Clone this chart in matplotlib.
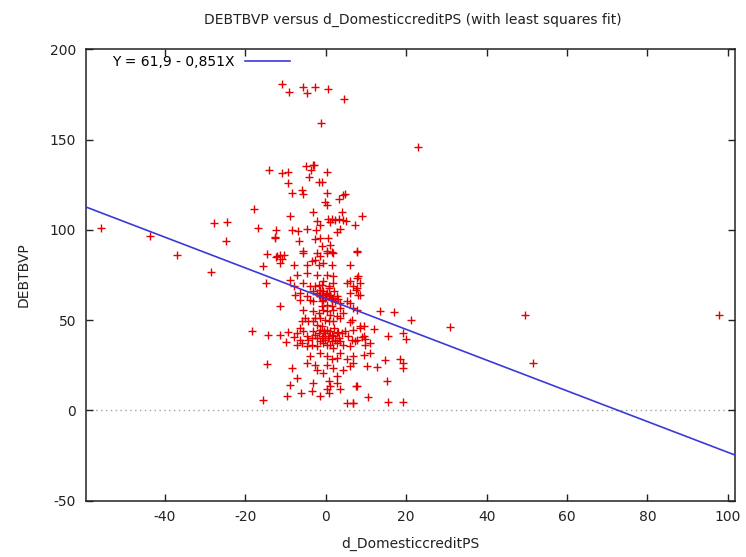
import matplotlib
matplotlib.use("Agg")
import numpy as np
import matplotlib.pyplot as plt

plt.rcParams["axes.unicode_minus"] = False

# least squares fit shown in the key
intercept = 61.9
slope = -0.851
fit_label = "Y = 61,9 - 0,851X"

# scatter points (d_DomesticcreditPS, DEBTBVP)
far_left = [(-56.0, 100.8), (-43.7, 96.4), (-36.9, 85.8), (-28.5, 76.8), (-27.8, 104.0),
            (-24.5, 104.5), (-24.8, 94.0), (-17.8, 111.5), (-16.8, 101.0), (-15.7, 80.1),
            (-18.4, 43.8), (-15.7, 5.6), (-14.9, 70.6), (-14.7, 86.8), (-14.5, 25.9),
            (-14.3, 42.0), (-14.1, 133.2)]

right_side = [(97.9, 52.7), (49.5, 52.7), (51.6, 26.3), (30.9, 46.0), (22.9, 146.1),
              (21.2, 50.1), (20.0, 39.4), (19.3, 43.0), (19.2, 26.3), (19.2, 23.5),
              (18.5, 28.7), (19.2, 4.7), (17.1, 54.7), (15.6, 4.6), (15.4, 41.4),
              (15.2, 16.5), (14.8, 28.0), (13.5, 54.8), (12.7, 24.2), (12.1, 45.3),
              (11.0, 31.9), (11.0, 37.4), (10.6, 7.7), (10.2, 24.4)]

top_points = [(-10.9, 180.8), (-9.1, 176.2), (-5.6, 179.0), (-4.7, 175.7), (-2.7, 179.3),
              (0.6, 177.9), (4.6, 172.5), (-1.2, 159.4)]

upper_band = [(-10.9, 131.4), (-9.3, 132.0), (-4.9, 135.5), (-2.9, 136.0), (-3.7, 133.2),
              (0.4, 132.0), (-3.1, 135.8), (-9.5, 126.2), (-4.1, 129.2), (-1.7, 126.4),
              (-1.0, 126.6), (-8.3, 120.4), (-5.9, 122.2), (-5.6, 120.0), (0.4, 120.4),
              (4.8, 120.0), (3.2, 117.0), (4.2, 119.4), (-0.3, 115.2), (0.2, 113.9),
              (-8.9, 107.8), (-3.2, 110.0), (4.0, 109.8), (9.0, 107.8), (0.6, 106.0),
              (1.5, 106.2), (2.3, 105.6), (3.2, 105.8), (4.4, 105.2), (5.0, 104.8),
              (1.0, 104.5), (-2.2, 105.0), (-1.4, 102.8), (7.4, 102.7), (-12.4, 100.0),
              (-12.7, 95.5), (-8.3, 100.0), (-6.8, 99.5), (-4.7, 100.2), (-2.4, 100.0),
              (-6.6, 93.6), (-2.7, 95.0), (-1.4, 95.6), (0.6, 95.6), (2.7, 99.0),
              (3.6, 100.4), (-1.0, 90.8), (1.1, 91.8), (-12.4, 85.0), (-10.9, 83.9),
              (7.7, 88.0), (-5.6, 87.2), (-1.4, 85.7), (0.2, 87.2), (1.9, 87.2),
              (-11.4, 86.2), (-12.6, 96.0)]

core_high = [(-5.6, 88.1), (-2.2, 87.2), (0.2, 88.1), (1.5, 87.5), (-4.7, 80.7),
             (-3.5, 82.5), (-2.7, 83.5), (-1.8, 80.7), (-0.6, 81.6), (1.5, 80.7),
             (-8.0, 80.7), (-11.4, 81.6), (-10.5, 86.2), (-12.2, 85.7), (6.1, 80.7),
             (7.7, 88.1), (-7.2, 75.2), (-4.7, 76.1), (-2.2, 75.2), (0.2, 75.2),
             (1.9, 74.3), (7.7, 73.3), (8.1, 74.6), (8.5, 70.6), (-0.6, 71.5),
             (-1.8, 69.6), (0.7, 68.7), (-8.9, 72.4), (-5.6, 70.6), (-3.9, 68.7),
             (5.2, 70.6), (6.1, 71.5), (1.9, 70.6)]

core_mid = [(-3.1, 66.0), (-2.2, 65.0), (-1.4, 66.9), (-0.6, 66.0), (0.2, 65.0),
            (1.1, 64.1), (-1.4, 63.2), (-0.2, 62.3), (1.5, 61.3), (2.3, 60.4),
            (3.6, 59.5), (5.2, 60.4), (2.7, 63.2), (0.7, 67.8), (-8.0, 68.7),
            (-7.6, 64.1), (-6.4, 65.0), (-4.7, 63.2), (-3.9, 61.3), (6.1, 65.0),
            (8.1, 64.1), (6.1, 59.5), (6.9, 68.7), (-6.4, 61.3), (-3.1, 60.4),
            (-1.0, 60.4), (-1.8, 64.1), (0.7, 63.2), (-0.6, 61.3), (1.9, 62.3),
            (-2.7, 68.7), (-1.0, 69.6), (8.5, 64.1), (7.5, 66.9), (7.7, 67.8),
            (0.0, 64.6), (2.1, 66.2), (-0.9, 63.8), (1.3, 62.0), (3.0, 61.6)]

core_low = [(-11.5, 58.0), (-5.7, 55.8), (-5.1, 51.2), (-4.3, 49.4), (-3.1, 54.9),
            (-1.8, 54.0), (-0.6, 55.8), (0.2, 54.9), (1.1, 53.0), (1.9, 55.8),
            (2.7, 52.1), (-1.4, 51.2), (-0.2, 50.3), (0.7, 49.4), (1.9, 49.4),
            (3.6, 51.2), (6.1, 48.8), (6.5, 50.3), (7.7, 55.8), (6.9, 44.8),
            (4.4, 54.0), (3.6, 56.7), (-2.7, 51.2), (-3.1, 49.4), (-6.0, 49.4),
            (-2.2, 47.5), (-1.0, 46.6), (6.9, 56.7), (0.2, 58.6), (1.5, 57.7),
            (-1.0, 57.7),
            (-11.5, 42.0), (-9.3, 43.3), (-9.9, 37.7), (-7.9, 40.7), (-7.2, 42.9),
            (-6.4, 45.7), (-5.6, 43.8), (-4.7, 41.1), (-4.3, 39.2), (-3.5, 40.1),
            (-2.7, 42.0), (-1.8, 42.9), (-1.0, 40.1), (-0.2, 39.2), (0.7, 41.1),
            (1.5, 42.0), (2.3, 39.2), (3.2, 40.1), (4.0, 42.9), (4.8, 43.8),
            (5.6, 41.1), (6.5, 39.2), (7.3, 38.3), (8.5, 46.6), (9.0, 40.7),
            (9.8, 39.6), (-3.5, 36.5), (-2.2, 35.5), (-0.6, 37.4), (1.1, 36.5),
            (1.9, 34.6), (2.7, 37.4), (4.4, 36.5), (6.1, 35.5), (0.2, 44.8),
            (-1.4, 44.8), (-3.1, 43.8), (-6.4, 39.2), (-4.7, 35.5), (-6.0, 37.4),
            (-7.2, 36.5), (-0.2, 42.9), (1.1, 43.8), (1.9, 41.1), (0.2, 36.5),
            (-1.4, 38.3), (2.7, 42.9), (3.6, 38.3), (1.5, 38.3), (-0.6, 41.1),
            (-2.2, 40.1), (9.5, 46.6), (8.5, 45.7), (9.4, 41.0), (7.7, 39.2),
            (9.8, 36.5), (0.5, 39.9), (-0.4, 44.0), (2.0, 45.5), (3.1, 43.2)]

core_bottom = [(-8.5, 23.5), (-7.2, 18.0), (-4.7, 26.3), (-2.7, 25.4), (-3.9, 30.0),
               (-1.4, 31.8), (0.2, 30.0), (1.5, 28.2), (2.7, 29.1), (3.6, 31.8),
               (5.2, 28.2), (6.9, 30.0), (0.2, 25.4), (1.9, 23.5), (2.7, 19.0),
               (-0.6, 20.8), (-2.2, 22.6), (0.7, 16.2), (4.4, 22.6), (6.1, 24.5),
               (9.4, 30.9), (7.5, 13.4), (-3.1, 15.3), (-3.5, 10.6), (6.9, 26.3),
               (7.7, 13.4), (6.7, 4.2), (-9.7, 7.9), (-8.9, 14.3), (-6.2, 9.4),
               (0.2, 11.6), (0.7, 9.7), (1.1, 13.4), (2.7, 15.3), (5.2, 4.2),
               (6.9, 4.2), (3.6, 11.6), (-1.4, 7.9)]

groups = [far_left, right_side, top_points, upper_band, core_high, core_mid, core_low, core_bottom]
pts = np.array([p for g in groups for p in g])
x = pts[:, 0]
y = pts[:, 1]

x_ticks = [-40, -20, 0, 20, 40, 60, 80, 100]
y_ticks = [-50, 0, 50, 100, 150, 200]
x_lim = (-59.7, 101.8)
y_lim = (-50, 200)

fig = plt.figure(figsize=(7.46, 5.57), dpi=100)
ax = fig.add_axes([0.1149, 0.1011, 0.8704, 0.8104])

ax.axhline(0, color="#a0a0a0", lw=1, ls=(0, (1, 2.5)), zorder=1)
ax.plot(x, y, ls="none", marker="+", ms=5.5, mew=1.0, color="#e60000", zorder=2)

xx = np.array(x_lim)
ax.plot(xx, intercept + slope * xx, color="#3a3ad8", lw=1.2, label=fit_label, zorder=3)

ax.set_xlim(*x_lim)
ax.set_ylim(*y_lim)
ax.set_xticks(x_ticks)
ax.set_yticks(y_ticks)
ax.tick_params(direction="in", length=5, width=1, top=True, right=True,
               labelsize=10, pad=7, colors="#222222")
for s in ax.spines.values():
    s.set_linewidth(1.1)
    s.set_color("#222222")

ax.legend(loc="upper left", bbox_to_anchor=(0.025, 1.01), frameon=False,
          markerfirst=False, handlelength=3.2, fontsize=10, borderaxespad=0.3)

fig.text(0.554, 0.964, "DEBTBVP versus d_DomesticcreditPS (with least squares fit)",
         ha="center", va="center", fontsize=10, color="#222222")
ax.set_xlabel("d_DomesticcreditPS", fontsize=10, color="#222222", labelpad=9)
ax.set_ylabel("DEBTBVP", fontsize=10, color="#222222", labelpad=14)

fig.savefig("out.png", dpi=100)
